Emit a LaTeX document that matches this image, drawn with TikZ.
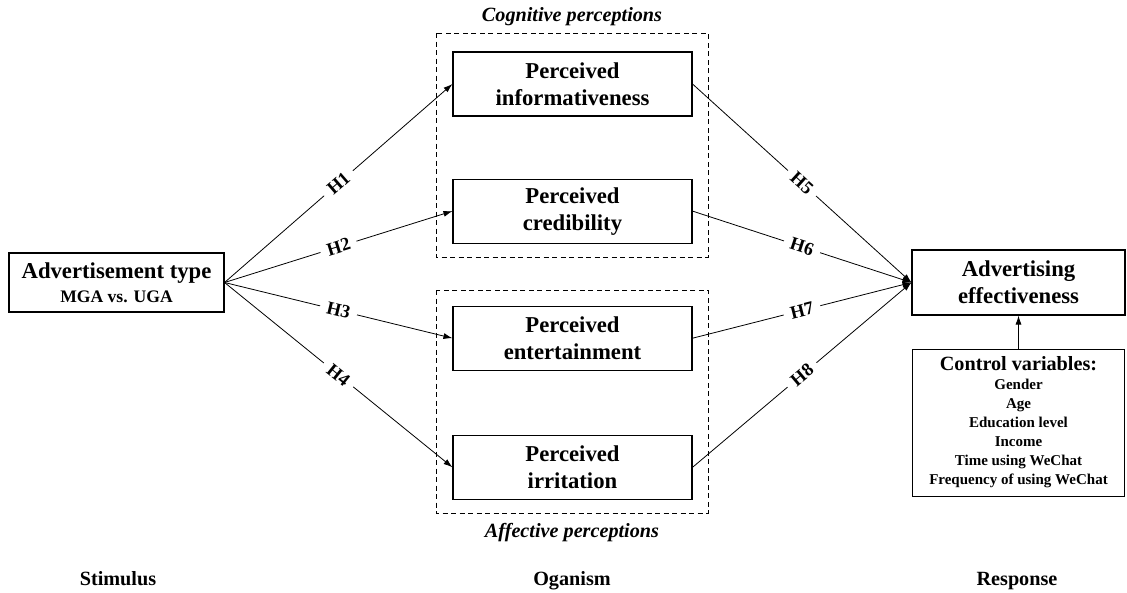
\documentclass[tikz,border=0pt]{standalone}
\usepackage{fontspec}
\setmainfont{Liberation Serif}
\usetikzlibrary{positioning,arrows.meta}

\begin{document}
\begin{tikzpicture}[x=1pt,y=-1pt,node distance=62pt,
    box/.style={draw,line width=1.1pt,align=center,inner sep=0pt,
      minimum width=239pt,minimum height=64pt,
      font=\fontsize{22.7}{27}\selectfont\bfseries},
    group/.style={draw,line width=0.9pt,dash pattern=on 5pt off 3.5pt},
    hyp/.style={fill=white,sloped,inner xsep=7pt,inner ysep=1pt,
      font=\fontsize{18.5}{19}\selectfont\bfseries},
    caption/.style={font=\fontsize{20.2}{24}\selectfont\bfseries}]
  \useasboundingbox (0,0) rectangle (1127,592);

  \node[box,minimum width=215pt,minimum height=59pt] (AdType) at (116.5,282.5)
    {Advertisement type\\[-3pt]{\fontsize{17.6}{20}\selectfont MGA vs. UGA}};
  \node[box]                 (Inform) at (572.5,84)    {Perceived\\informativeness};
  \node[box] (Cred)   [below=62pt of Inform]   {Perceived\\credibility};
  \node[box] (Entert) [below=62pt of Cred]     {Perceived\\entertainment};
  \node[box] (Irrit)  [below=64pt of Entert]   {Perceived\\irritation};
  \node[box,minimum width=213pt,minimum height=65pt] (AdEffect) at (1018.5,282.5)
    {Advertising\\effectiveness};
  \node[box,minimum width=212pt,minimum height=147pt,
        font=\fontsize{15}{19}\selectfont\bfseries] (Control) [below=33pt of AdEffect]
    {{\fontsize{20.2}{22}\selectfont Control variables:}\\Gender\\Age\\Education level\\Income\\Time using WeChat\\Frequency of using WeChat};

  % perception groups
  \draw[group] (436,33) rectangle (708,257);
  \draw[group] (436,290) rectangle (708,513);
  \node[caption,font=\fontsize{20.2}{24}\selectfont\bfseries\itshape] (CogLabel) at (572,17)  {Cognitive perceptions};
  \node[caption,font=\fontsize{20.2}{24}\selectfont\bfseries\itshape] (AffLabel) at (572,533) {Affective perceptions};

  % S-O-R headings
  \node[caption,anchor=base] (Stim) at (118,585)  {Stimulus};
  \node[caption,anchor=base] (Org)  at (572,585)  {Oganism};
  \node[caption,anchor=base] (Resp) at (1017,585) {Response};

  \path[-{Latex[length=9pt,width=6pt]},line width=0.8pt]
    (AdType.east)  edge node[hyp]{H1} (Inform.west)
    (AdType.east)  edge node[hyp]{H2} (Cred.west)
    (AdType.east)  edge node[hyp]{H3} (Entert.west)
    (AdType.east)  edge node[hyp]{H4} (Irrit.west)
    (Inform.east)  edge node[hyp]{H5} (AdEffect.west)
    (Cred.east)    edge node[hyp]{H6} (AdEffect.west)
    (Entert.east)  edge node[hyp]{H7} (AdEffect.west)
    (Irrit.east)   edge node[hyp]{H8} (AdEffect.west)
    (Control.north) edge (AdEffect.south);
\end{tikzpicture}
\end{document}
